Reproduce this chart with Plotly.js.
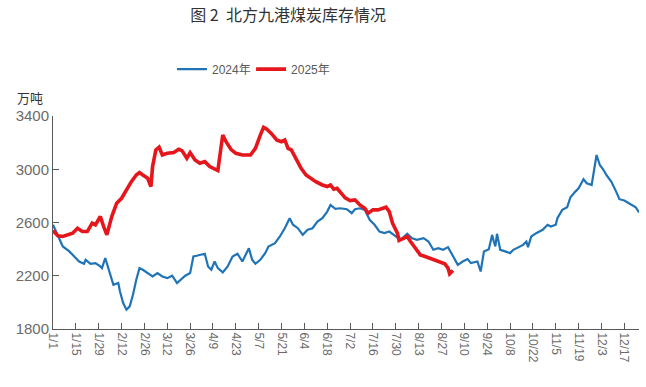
<!DOCTYPE html>
<html>
<head>
<meta charset="utf-8">
<script src="https://cdn.plot.ly/plotly-3.0.1.min.js"></script>
<style>html,body{margin:0;padding:0;background:#fff;}#chart{width:646px;height:387px;}</style>
</head>
<body>
<div id="chart"></div>
<script>
// 2024 series (plotted on a shared calendar, month-day)
const dates2024 = ["01-01","01-05","01-07","01-11","01-14","01-17","01-20","01-21","01-24","01-27","01-30","01-31",
"02-02","02-05","02-07","02-10","02-11","02-13","02-15","02-17","02-19","02-21","02-23","02-25","02-28",
"03-03","03-06","03-09","03-12","03-15","03-18","03-20","03-23","03-26","03-28","03-30",
"04-01","04-04","04-06","04-08","04-10","04-12","04-15","04-18","04-21","04-24","04-27",
"05-01","05-03","05-05","05-08","05-11","05-13","05-17","05-20","05-23","05-26","05-28","05-31",
"06-03","06-06","06-09","06-12","06-15","06-18","06-20","06-23","06-26","06-30",
"07-03","07-05","07-08","07-11","07-14","07-17","07-20","07-23","07-26","07-30",
"08-02","08-06","08-09","08-12","08-16","08-19","08-22","08-25","08-28","08-31",
"09-03","09-06","09-09","09-12","09-14","09-18","09-20","09-22","09-25","09-27","09-28","09-29","09-30",
"10-02","10-05","10-08","10-10","10-13","10-16","10-18","10-19","10-21","10-24","10-28","10-31",
"11-02","11-05","11-06","11-09","11-12","11-14","11-17","11-19","11-22","11-24","11-27","11-30",
"12-02","12-04","12-06","12-09","12-12","12-14","12-17","12-21","12-24","12-26"];
const values2024 = [2583,2470,2420,2383,2345,2307,2290,2320,2290,2295,2270,2257,
2333,2220,2132,2145,2083,1995,1945,1970,2057,2170,2257,2245,2220,
2195,2220,2195,2182,2200,2145,2170,2200,2220,2345,2350,
2357,2365,2270,2245,2307,2257,2225,2270,2345,2365,2307,
2407,2320,2290,2320,2370,2420,2445,2495,2557,2632,2583,2557,
2507,2545,2557,2607,2632,2682,2732,2702,2707,2700,
2670,2700,2707,2695,2620,2583,2532,2520,2532,2495,
2470,2515,2482,2470,2482,2457,2395,2407,2395,2415,
2345,2282,2307,2325,2295,2307,2232,2383,2400,2507,2460,2420,2515,
2395,2383,2370,2395,2415,2432,2457,2415,2495,2520,2545,2583,
2570,2583,2632,2695,2715,2790,2832,2857,2925,2895,2882,3107,
3032,3000,2957,2907,2832,2775,2765,2740,2715,2675];

// 2025 series
const dates2025 = ["01-01","01-04","01-07","01-10","01-13","01-16","01-19","01-22","01-25","01-27","01-30",
"02-01","02-03","02-06","02-09","02-12","02-15","02-18","02-21","02-23","02-25","02-28",
"03-02","03-03","03-05","03-07","03-09","03-12","03-16","03-19","03-21","03-24","03-26","03-29",
"04-01","04-04","04-07","04-09","04-12","04-14","04-15","04-17","04-20","04-23","04-27",
"05-02","05-05","05-08","05-10","05-12","05-15","05-18","05-21","05-23","05-25","05-27","05-30",
"06-02","06-05","06-08","06-11","06-15","06-18","06-20","06-22","06-24","06-27","06-29",
"07-02","07-05","07-08","07-11","07-13","07-16","07-19","07-22","07-24","07-26","07-28","07-31",
"08-01","08-04","08-06","08-08","08-11","08-14","08-17","08-20","08-23","08-26","08-29","08-31",
"09-01","09-03"];
const values2025 = [2540,2500,2495,2507,2520,2557,2532,2532,2595,2582,2645,
2570,2507,2645,2745,2782,2845,2907,2957,2975,2957,2932,
2870,3020,3145,3165,3107,3120,3125,3150,3140,3082,3125,3070,
3045,3057,3020,3007,2990,3170,3257,3207,3150,3120,3107,
3107,3157,3257,3315,3300,3265,3220,3207,3220,3157,3145,3070,
3007,2957,2932,2907,2882,2870,2882,2850,2857,2810,2785,
2765,2770,2732,2707,2670,2695,2695,2707,2715,2682,2595,2520,
2465,2482,2495,2457,2407,2357,2345,2332,2315,2300,2290,2257,
2215,2240];

const seriesNames = ["2024年","2025年"];
const yTicks = [1800,2200,2600,3000,3400];
const baseYear = "2025";

const toDate = arr => arr.map(d => baseYear + "-" + d);
const fontFam = "Liberation Sans, Arial, Noto Sans CJK SC, sans-serif";

const traces = [
  {x: toDate(dates2024), y: values2024, name: seriesNames[0], type: "scatter", mode: "lines",
   line: {color: "#1f74b8", width: 2.2}, legend: "legend"},
  {x: toDate(dates2025), y: values2025, name: seriesNames[1], type: "scatter", mode: "lines",
   line: {color: "#e5161c", width: 3.6}, legend: "legend2"}
];

const legendStyle = {orientation: "h", yanchor: "middle", y: 1.22, xanchor: "left",
  font: {family: fontFam, size: 12, color: "#595959"}, bgcolor: "rgba(0,0,0,0)", itemwidth: 30};

const layout = {
  width: 646, height: 387,
  margin: {l: 53, r: 7, t: 116, b: 58},
  paper_bgcolor: "#fff", plot_bgcolor: "#fff",
  font: {family: fontFam, color: "#595959"},
  showlegend: true,
  title: {text: "图 2  北方九港煤炭库存情况", x: 0.446, xref: "container", xanchor: "center",
          y: 0.961, yref: "container", yanchor: "middle",
          font: {family: "Noto Sans CJK SC, sans-serif", size: 16, color: "#333"}},
  legend: Object.assign({}, legendStyle, {x: 0.203}),
  legend2: Object.assign({}, legendStyle, {x: 0.338}),
  xaxis: {type: "date", range: [baseYear + "-01-01", baseYear + "-12-26"],
          tick0: baseYear + "-01-01", dtick: 14 * 86400000, tickformat: "%-m/%-d",
          tickangle: 90, ticks: "inside", ticklen: 6, tickcolor: "#595959",
          showline: true, linecolor: "#595959", linewidth: 1, showgrid: false, zeroline: false,
          tickfont: {size: 12, color: "#6b6b6b"}, fixedrange: true},
  yaxis: {range: [1800, 3400], tickvals: yTicks, ticks: "inside", ticklen: 6, tickcolor: "#595959",
          showline: true, linecolor: "#595959", linewidth: 1, showgrid: false, zeroline: false,
          tickfont: {size: 15, color: "#6b6b6b"}, fixedrange: true},
  annotations: [{text: "万吨", xref: "paper", yref: "paper", x: -0.039, y: 1.089,
                 xanchor: "center", yanchor: "middle", showarrow: false,
                 font: {family: "Noto Sans CJK SC, sans-serif", size: 13, color: "#333"}}]
};

Plotly.newPlot("chart", traces, layout, {displayModeBar: false, staticPlot: true});
</script>
</body>
</html>
